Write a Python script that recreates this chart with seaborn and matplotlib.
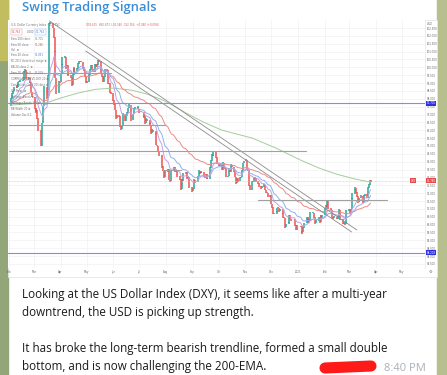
import numpy as np
import pandas as pd
import matplotlib
matplotlib.use("Agg")
import matplotlib.pyplot as plt
import matplotlib.dates as mdates
from matplotlib.patches import Rectangle
from matplotlib.lines import Line2D
import seaborn as sns

# %%
# U.S. Dollar Currency Index (TVC:DXY), daily closes, 3 Feb 2020 - 26 Mar 2021
first_open = 97.55
closes = [
    # Feb 2020
    97.72, 97.98, 98.30, 98.47, 98.69, 98.83, 98.72, 99.04, 99.08, 99.13,
    99.17, 99.44, 99.70, 99.84, 99.28, 99.33, 99.02, 99.05, 98.46, 98.13,
    # Mar 2020
    97.40, 97.16, 97.30, 96.75, 95.99, 95.01, 96.43, 96.52, 97.53, 98.75, 98.02,
    99.47, 101.22, 102.77, 102.82, 102.51, 101.92, 101.02, 99.35, 98.36, 99.08, 99.05,
    # Apr 2020
    99.60, 100.18, 100.60, 100.65, 99.94, 100.12, 99.49, 99.52, 99.36, 98.88, 99.54,
    99.95, 99.76, 99.92, 100.23, 100.37, 100.39, 100.36, 99.99, 99.83, 99.45, 99.02,
    # May 2020
    99.08, 99.52, 99.83, 100.12, 99.91, 99.73, 100.20, 100.03, 100.18, 100.44, 100.38,
    99.60, 99.45, 99.08, 99.38, 99.87, 99.81, 99.01, 98.98, 98.40, 98.34,
    # Jun 2020
    97.92, 97.67, 97.30, 96.78, 96.94, 96.90, 96.27, 96.05, 96.31, 97.04, 96.61,
    96.90, 97.09, 97.40, 97.63, 96.62, 96.62, 97.02, 97.37, 97.43, 97.47, 97.37,
    # Jul 2020
    97.15, 97.20, 97.17, 96.83, 96.91, 96.45, 96.73, 96.65, 96.46, 96.32, 95.83, 96.03,
    95.94, 95.82, 95.09, 95.01, 94.71, 94.43, 93.67, 93.69, 93.42, 93.00, 93.35,
    # Aug 2020
    93.52, 93.36, 92.86, 92.75, 93.44, 93.62, 93.62, 93.40, 93.39, 93.09, 92.89,
    92.25, 92.89, 92.79, 93.21, 93.32, 92.94, 92.98, 93.03, 92.37, 92.14,
    # Sep 2020
    92.29, 92.71, 92.83, 92.71, 93.08, 93.43, 93.25, 93.34, 93.33, 93.04, 93.03,
    93.19, 92.94, 92.93, 93.61, 94.04, 94.43, 94.38, 94.62, 94.27, 93.92, 93.88,
    # Oct 2020
    93.75, 93.84, 93.50, 93.92, 93.62, 93.60, 93.05, 93.06, 93.53, 93.37, 93.79,
    93.69, 93.41, 93.04, 92.63, 92.95, 92.77, 92.97, 93.00, 93.43, 93.89, 94.03,
    # Nov 2020
    94.11, 93.51, 93.45, 92.52, 92.23, 92.73, 92.74, 93.00, 92.96, 92.76, 92.64,
    92.43, 92.43, 92.31, 92.39, 92.51, 92.22, 92.02, 92.04, 91.78, 91.87,
    # Dec 2020
    91.32, 91.10, 90.71, 90.70, 90.80, 91.04, 91.08, 90.84, 90.98, 90.72, 90.49,
    90.45, 89.83, 90.02, 90.10, 90.59, 90.38, 90.29, 90.31, 89.96, 89.67, 89.94,
    # Jan 2021
    89.88, 89.45, 89.53, 89.81, 90.08, 90.46, 90.11, 90.37, 90.22, 90.76,
    90.76, 90.50, 90.48, 90.09, 90.24, 90.42, 90.15, 90.60, 90.45, 90.58,
    # Feb 2021
    91.02, 91.18, 91.13, 91.53, 91.04, 90.92, 90.43, 90.41, 90.42, 90.48,
    90.37, 90.48, 90.94, 90.59, 90.36, 90.06, 90.13, 90.03, 90.12, 90.88,
    # Mar 2021
    90.98, 90.80, 90.96, 91.63, 91.94, 92.35, 92.07, 91.82, 91.42, 91.67,
    91.85, 91.83, 91.44, 91.84, 91.92, 91.71, 92.33, 92.52, 92.82, 92.78,
]
closed_days = ["2020-12-25", "2021-01-01"]

# 200 EMA as shown on the chart (needs history before the window)
ema200_dates = ["2020-02-03", "2020-03-02", "2020-03-16", "2020-04-01", "2020-04-20",
                "2020-05-11", "2020-06-01", "2020-06-22", "2020-07-10", "2020-07-27",
                "2020-08-10", "2020-08-24", "2020-09-14", "2020-10-05", "2020-11-09",
                "2020-12-07", "2021-01-04", "2021-01-25", "2021-02-15", "2021-03-08",
                "2021-03-26"]
ema200_vals = [97.60, 97.70, 97.75, 98.05, 98.35, 98.60, 98.68, 98.55, 98.30, 97.95,
               97.55, 97.10, 96.50, 96.00, 95.50, 94.85, 94.10, 93.60, 93.20, 92.90,
               92.70]

# drawings: trendlines (start date, start price, end date, end price)
trend_lines = [
    ("2020-03-19", 102.95, "2021-03-10", 89.66),
    ("2020-04-30", 101.04, "2021-03-04", 89.53),
]
# horizontal levels (price, from, to)
levels = [
    (99.64, "2020-02-01", "2020-05-29"),
    (96.35, "2020-02-01", "2020-07-31"),
    (94.68, "2020-02-01", "2021-01-10"),
    (93.47, "2020-07-29", "2020-08-18"),
    (91.57, "2020-11-15", "2021-04-14"),
]
blue_levels = [97.705, 88.208]
last_price = 92.78

title = "Swing Trading Signals"
message = [
    "Looking at the US Dollar Index (DXY), it seems like after a multi-year",
    "downtrend, the USD is picking up strength.",
    "",
    "It has broke the long-term bearish trendline, formed a small double",
    "bottom, and is now challenging the 200-EMA.",
]
msg_time = "8:40 PM"

# %%
dates = pd.bdate_range("2020-02-03", "2021-03-26")
dates = dates[~dates.isin(pd.to_datetime(closed_days))]
df = pd.DataFrame({"date": dates, "close": closes})
df["open"] = [first_open] + closes[:-1]
for n in (10, 20, 50):
    df[f"ema{n}"] = df["close"].ewm(span=n, adjust=False).mean()
ema200 = pd.DataFrame({"date": pd.to_datetime(ema200_dates), "ema": ema200_vals})

sns.set_style("white")
W, H = 447, 375
fig = plt.figure(figsize=(W / 100, H / 100), dpi=100)
fig.patch.set_facecolor("white")


def fx(px):
    return px / W


def fy(py):
    return 1 - py / H


# telegram wallpaper on both sides of the bubble
fig.add_artist(Rectangle((0, 0), fx(8), 1, transform=fig.transFigure, color="#92a679", zorder=0))
fig.add_artist(Rectangle((0, fy(60)), fx(8), 60 / H, transform=fig.transFigure, color="#c2bd5e", zorder=0))
fig.add_artist(Rectangle((fx(437), 0), 1 - fx(437), 1, transform=fig.transFigure, color="#b7bf8f", zorder=0))

# chart frame
fig.add_artist(Rectangle((fx(8), fy(277)), fx(437) - fx(8), 257 / H, transform=fig.transFigure,
                         facecolor="white", edgecolor="#e3e5ea", lw=0.6, zorder=1))

ax = fig.add_axes([fx(8), fy(268), fx(425) - fx(8), fy(20) - fy(268)])
ax.set_zorder(2)
ax.set_facecolor("white")

# candles
up = df["close"] >= df["open"]
ax.vlines(df.loc[up, "date"], df.loc[up, "open"], df.loc[up, "close"] + 0.04,
          color="#26a69a", lw=1.1)
ax.vlines(df.loc[~up, "date"], df.loc[~up, "open"], df.loc[~up, "close"] - 0.04,
          color="#ef5350", lw=1.1)

# moving averages
sns.lineplot(data=ema200, x="date", y="ema", ax=ax, color="#a6cc9c", lw=0.7)
sns.lineplot(data=df, x="date", y="ema50", ax=ax, color="#ec8a88", lw=0.7)
sns.lineplot(data=df, x="date", y="ema20", ax=ax, color="#8fb1ee", lw=0.7)
sns.lineplot(data=df, x="date", y="ema10", ax=ax, color="#c3a3e0", lw=0.7)

# drawings
for d0, p0, d1, p1 in trend_lines:
    ax.plot(pd.to_datetime([d0, d1]), [p0, p1], color="#8c8c8c", lw=0.6)
for p, d0, d1 in levels:
    ax.plot(pd.to_datetime([d0, d1]), [p, p], color="#a0a0a0", lw=0.8)
for p in blue_levels:
    ax.axhline(p, color="#8a8ae6", lw=0.8)
ax.axhline(last_price, color="#f5b5b5", lw=0.5, ls=(0, (1, 1)))

ax.set_xlim(pd.Timestamp("2020-01-31"), pd.Timestamp("2021-05-28"))
ax.set_ylim(87.24, 103.01)
ax.set_xlabel("")
ax.set_ylabel("")

ax.xaxis.set_major_locator(mdates.MonthLocator())
ax.xaxis.set_major_formatter(
    plt.FuncFormatter(lambda v, _: mdates.num2date(v).strftime("%Y") if mdates.num2date(v).month == 1
                      else mdates.num2date(v).strftime("%b")))
ax.yaxis.tick_right()
ax.set_yticks(np.arange(87.5, 103.0, 0.5))
ax.yaxis.set_major_formatter(plt.FuncFormatter(lambda v, _: f"{v:.3f}"))
ax.tick_params(axis="both", labelsize=1.9, colors="#6a6a6a", length=0, pad=1.2)
ax.grid(True, color="#f1f2f5", lw=0.5)
for s in ax.spines.values():
    s.set_visible(False)
ax.spines["right"].set_visible(True)
ax.spines["right"].set_color("#e3e5ea")
ax.spines["right"].set_linewidth(0.5)

# price-scale badges
yt = ax.get_yaxis_transform()
for p in blue_levels:
    ax.text(1.004, p, f"{p:.3f}", transform=yt, fontsize=1.9, color="white", va="center",
            bbox=dict(boxstyle="square,pad=0.15", fc="#3030e0", ec="none"), clip_on=False)
ax.text(1.004, last_price, f"{last_price:.3f}", transform=yt, fontsize=1.9, color="white",
        va="center", bbox=dict(boxstyle="square,pad=0.15", fc="#e84a4a", ec="none"), clip_on=False)
ax.text(0.965, last_price, "DXY", transform=yt, fontsize=1.9, color="white", va="center",
        bbox=dict(boxstyle="square,pad=0.15", fc="#e84a4a", ec="none"), clip_on=False)
fig.text(fx(430), fy(24), "USD", fontsize=1.9, color="#555", ha="center", va="center")
fig.text(fx(430), fy(272), "\u2699", fontsize=3, color="#777", ha="center", va="center")

# indicator legend (top-left)
legend_rows = [
    ("U.S. Dollar Currency Index \u00b7 1D \u00b7 TVC", None, None),
    (None, None, None),
    ("Ema 200 close", "92.705", "#5aa55a"),
    ("Ema 50 close", "91.266", "#e05050"),
    ("Vol  \u2298", None, None),
    ("Ema 20 close", "91.851", "#4a7fe0"),
    ("KC 20 2 close true range \u2298", None, None),
    ("BB 20 close 2  \u2298", None, None),
    ("Ema 10 close 0", "92.028", "#9a5fd0"),
    ("CORRELATION TVC:DXY 20 \u2298", None, None),
    ("Correlation Coeff 20 close \u2298", None, None),
    ("Vol Strat  \u2298", None, None),
    ("BollingerBands \u2298", None, None),
    ("Bollinger Bands %B \u2298", None, None),
    ("BB Width 20 \u2298", None, None),
    ("Volume Osc 0.1", None, None),
]
row_y = [25, 32, 39, 44.5, 50, 55.5, 61, 67, 73, 79, 85, 91, 97, 103, 109, 115]
for (label, val, col), py in zip(legend_rows, row_y):
    if label:
        fig.text(fx(11), fy(py), label, fontsize=1.9, color="#6f6f6f", va="center", zorder=5)
    if val:
        fig.text(fx(35), fy(py), val, fontsize=1.9, color=col, va="center", zorder=5)
fig.text(fx(86), fy(25), "O92.615  H92.873  L92.540  C92.764  +0.080 (+0.09%)",
         fontsize=1.9, color="#e05a5a", va="center", zorder=5)
fig.text(fx(12), fy(32), "92.764", fontsize=1.9, color="#e05050", va="center", zorder=5,
         bbox=dict(boxstyle="square,pad=0.25", fc="white", ec="#e88a8a", lw=0.3))
fig.text(fx(27), fy(32), "0.000", fontsize=1.9, color="#666", va="center", zorder=5)
fig.text(fx(36), fy(32), "92.764", fontsize=1.9, color="#4a7fe0", va="center", zorder=5,
         bbox=dict(boxstyle="square,pad=0.25", fc="white", ec="#8fb1ee", lw=0.3))

# bubble header and message
fig.text(fx(22), fy(11), title, fontsize=9.4, color="#3b8ed6", weight="semibold",
         family="Open Sans", va="baseline")
baselines = [298, 316, 334, 352, 370]
for line, b in zip(message, baselines):
    if line:
        fig.text(fx(22), fy(b), line, fontsize=8.4, color="#1b1b1b", family="Open Sans",
                 va="baseline")
fig.add_artist(Line2D([fx(325), fx(371)], [fy(368), fy(366)], transform=fig.transFigure,
                      color="#ff1a1a", lw=8, solid_capstyle="round"))
fig.text(fx(426), fy(371), msg_time, fontsize=8, color="#a9b0b8", family="Open Sans",
         ha="right", va="baseline")

fig.savefig("out.png", dpi=100)
